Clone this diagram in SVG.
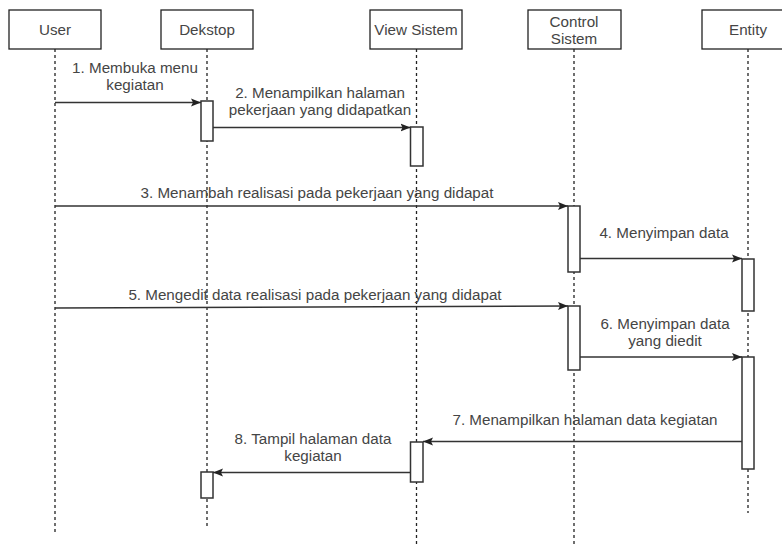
<svg xmlns="http://www.w3.org/2000/svg" width="782" height="546" viewBox="0 0 782 546">
<style>
.box{fill:#fff;stroke:#222;stroke-width:1.3}
.act{fill:#fff;stroke:#333;stroke-width:1.5}
.life{stroke:#222;stroke-width:1.3;stroke-dasharray:3 3;fill:none}
.msg{stroke:#333;stroke-width:1.5;fill:none;marker-end:url(#arr)}
text{font-family:"Liberation Sans",Arial,sans-serif;font-size:15.2px;fill:#454545;text-anchor:middle}
</style>
<defs>
<marker id="arr" viewBox="0 0 10 10" refX="10" refY="5" markerWidth="10" markerHeight="10" markerUnits="userSpaceOnUse" orient="auto">
<path d="M0,1 L10,5 L0,9 L2,5 Z" fill="#222"/>
</marker>
</defs>
<rect width="782" height="546" fill="#fff"/>
<g id="lifelines">
<line class="life" x1="55" y1="49" x2="55" y2="533"/>
<line class="life" x1="207" y1="49" x2="207" y2="529"/>
<line class="life" x1="416.5" y1="49" x2="416.5" y2="546"/>
<line class="life" x1="574" y1="49" x2="574" y2="546"/>
<line class="life" x1="748" y1="49" x2="748" y2="513"/>
</g>
<g id="user"><rect class="box" x="9" y="10" width="92" height="39"/><text x="55" y="35">User</text></g>
<g id="dekstop"><rect class="box" x="161" y="10" width="92" height="39"/><text x="207" y="35">Dekstop</text></g>
<g id="view-sistem"><rect class="box" x="370" y="10" width="92" height="39"/><text x="416" y="35">View Sistem</text></g>
<g id="control-sistem"><rect class="box" x="528" y="10" width="93" height="39"/><text x="574" y="27">Control</text><text x="574" y="44">Sistem</text></g>
<g id="entity"><rect class="box" x="702" y="10" width="92" height="39"/><text x="748" y="35">Entity</text></g>
<g id="activations">
<rect class="act" x="201" y="101" width="12" height="40"/>
<rect class="act" x="410.5" y="127" width="12.5" height="39"/>
<rect class="act" x="568" y="206" width="12" height="66"/>
<rect class="act" x="742" y="259" width="12" height="52"/>
<rect class="act" x="568" y="306" width="12" height="64"/>
<rect class="act" x="742" y="357" width="12" height="112"/>
<rect class="act" x="410.5" y="442" width="12.5" height="40"/>
<rect class="act" x="201" y="472" width="12" height="26"/>
</g>
<g id="connectors">
<line class="msg" x1="55" y1="102.5" x2="201" y2="102.5"/>
<line class="msg" x1="213" y1="127.5" x2="410.5" y2="127.5"/>
<line class="msg" x1="55" y1="206" x2="568" y2="206"/>
<line class="msg" x1="580" y1="258.5" x2="742" y2="258.5"/>
<line class="msg" x1="55" y1="308" x2="568" y2="306"/>
<line class="msg" x1="580" y1="357" x2="742" y2="357"/>
<line class="msg" x1="742" y1="441.5" x2="423" y2="441.5"/>
<line class="msg" x1="410.5" y1="472.5" x2="213" y2="472.5"/>
</g>
<g id="labels">
<text x="135" y="73">1. Membuka menu</text>
<text x="135" y="90">kegiatan</text>
<text x="320" y="98">2. Menampilkan halaman</text>
<text x="320" y="115">pekerjaan yang didapatkan</text>
<text x="317" y="198">3. Menambah realisasi pada pekerjaan yang didapat</text>
<text x="664" y="238">4. Menyimpan data</text>
<text x="315" y="300">5. Mengedit data realisasi pada pekerjaan yang didapat</text>
<text x="665" y="329">6. Menyimpan data</text>
<text x="665" y="346">yang diedit</text>
<text x="585" y="425">7. Menampilkan halaman data kegiatan</text>
<text x="313" y="444">8. Tampil halaman data</text>
<text x="313" y="461">kegiatan</text>
</g>
</svg>
